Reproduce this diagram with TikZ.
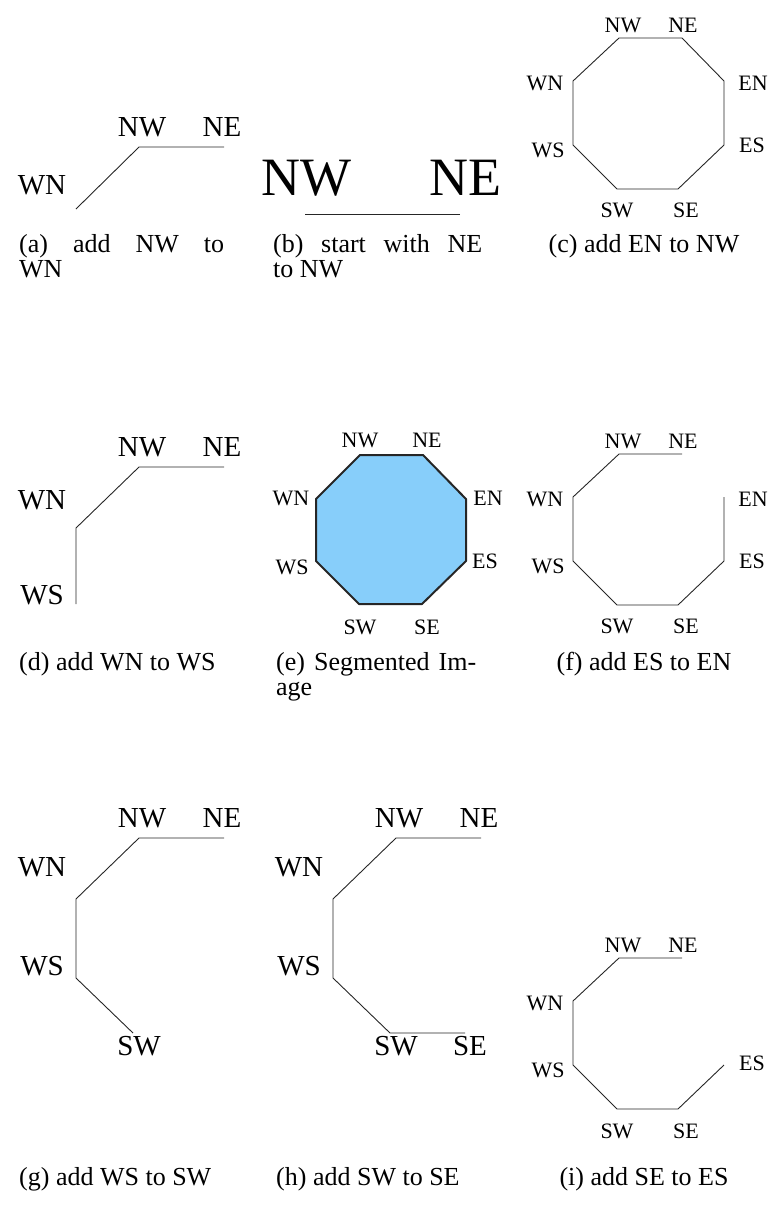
\documentclass[tikz,border=0pt]{standalone}
\usepackage{fontspec}
\setmainfont{Liberation Serif}
\tikzset{
  px/.style={x=1pt,y=-1pt},
  seg/.style={line width=0.9pt,black!85,line join=miter},
  lbl/.style={inner sep=0pt,font=\fontsize{29}{34}\selectfont},
  lblsmall/.style={inner sep=0pt,font=\fontsize{22}{26}\selectfont},
  lblbig/.style={inner sep=0pt,font=\fontsize{54}{60}\selectfont},
  subcap/.style={inner sep=0pt,anchor=base west,font=\fontsize{26}{30}\selectfont},
  subcapc/.style={inner sep=0pt,anchor=base,font=\fontsize{26}{30}\selectfont},
  region/.style={fill={rgb,255:red,135;green,206;blue,250},draw=black!85,line width=2pt,line join=round}
}
\begin{document}
\begin{tikzpicture}[px]
  \useasboundingbox (0,0) rectangle (768,1208);

  % (a) add NW to WN
  \coordinate (a-wn) at (76,209);
  \coordinate (a-nw) at (139,147);
  \coordinate (a-ne) at (224,147);
  \node[lbl] (a-lnw) at (142,127) {NW};
  \node[lbl] (a-lne) at (222,127) {NE};
  \node[lbl] (a-lwn) at (42,185) {WN};
  \draw[seg] (a-wn) -- (a-nw) -- (a-ne);
  \node[subcap] (a-cap1) at (19,252) {\hbox to 205pt{(a)\hfill add\hfill NW\hfill to}};
  \node[subcap] (a-cap2) at (19,277) {WN};

  % (b) start with NE to NW
  \coordinate (b-nw) at (305,214);
  \coordinate (b-ne) at (460,214);
  \node[lblbig] (b-lnw) at (306,178) {NW};
  \node[lblbig] (b-lne) at (465,178) {NE};
  \draw[seg] (b-ne) -- (b-nw);
  \node[subcap] (b-cap1) at (273,252) {\hbox to 209pt{(b)\hfill start\hfill with\hfill NE}};
  \node[subcap] (b-cap2) at (273,277) {to NW};

  % (c) add EN to NW
  \coordinate (c-nw) at (619,38);
  \coordinate (c-ne) at (682,38);
  \coordinate (c-en) at (724,81);
  \coordinate (c-es) at (724,145);
  \coordinate (c-se) at (678,189);
  \coordinate (c-sw) at (617,189);
  \coordinate (c-ws) at (573,145);
  \coordinate (c-wn) at (573,81);
  \node[lblsmall] (c-lnw) at (623,25) {NW};
  \node[lblsmall] (c-lne) at (683,25) {NE};
  \node[lblsmall] (c-lwn) at (545,83) {WN};
  \node[lblsmall] (c-len) at (753,83) {EN};
  \node[lblsmall] (c-lws) at (548,150) {WS};
  \node[lblsmall] (c-les) at (752,145) {ES};
  \node[lblsmall] (c-lsw) at (617,210) {SW};
  \node[lblsmall] (c-lse) at (686,210) {SE};
  \draw[seg] (c-ne) -- (c-nw) -- (c-wn) -- (c-ws) -- (c-sw) -- (c-se) -- (c-es) -- (c-en) -- (c-ne);
  \node[subcapc] (c-cap) at (644,252) {(c) add EN to NW};

  % (d) add WN to WS
  \coordinate (d-ws) at (76,604);
  \coordinate (d-wn) at (76,528);
  \coordinate (d-nw) at (139,467);
  \coordinate (d-ne) at (224,467);
  \node[lbl] (d-lnw) at (142,447) {NW};
  \node[lbl] (d-lne) at (222,447) {NE};
  \node[lbl] (d-lwn) at (42,500) {WN};
  \node[lbl] (d-lws) at (42,595) {WS};
  \draw[seg] (d-ws) -- (d-wn) -- (d-nw) -- (d-ne);
  \node[subcap] (d-cap) at (19,670) {(d) add WN to WS};

  % (e) segmented image
  \coordinate (e-nw) at (360,455);
  \coordinate (e-ne) at (423,455);
  \coordinate (e-en) at (466,499);
  \coordinate (e-es) at (466,561);
  \coordinate (e-se) at (422,604);
  \coordinate (e-sw) at (359,604);
  \coordinate (e-ws) at (316,561);
  \coordinate (e-wn) at (316,499);
  \filldraw[region] (e-nw) -- (e-ne) -- (e-en) -- (e-es) -- (e-se) -- (e-sw) -- (e-ws) -- (e-wn) -- cycle;
  \node[lblsmall] (e-lnw) at (360,440) {NW};
  \node[lblsmall] (e-lne) at (427,440) {NE};
  \node[lblsmall] (e-lwn) at (291,498) {WN};
  \node[lblsmall] (e-len) at (488,498) {EN};
  \node[lblsmall] (e-lws) at (292,567) {WS};
  \node[lblsmall] (e-les) at (485,561) {ES};
  \node[lblsmall] (e-lsw) at (360,627) {SW};
  \node[lblsmall] (e-lse) at (427,627) {SE};
  \node[subcap] (e-cap1) at (276,670) {\hbox to 200pt{(e)\hfill Segmented\hfill Im-}};
  \node[subcap] (e-cap2) at (276,695) {age};

  % (f) add ES to EN
  \coordinate (f-nw) at (619,454);
  \coordinate (f-ne) at (682,454);
  \coordinate (f-en) at (724,497);
  \coordinate (f-es) at (724,561);
  \coordinate (f-se) at (678,605);
  \coordinate (f-sw) at (617,605);
  \coordinate (f-ws) at (573,561);
  \coordinate (f-wn) at (573,497);
  \node[lblsmall] (f-lnw) at (623,441) {NW};
  \node[lblsmall] (f-lne) at (683,441) {NE};
  \node[lblsmall] (f-lwn) at (545,499) {WN};
  \node[lblsmall] (f-len) at (753,499) {EN};
  \node[lblsmall] (f-lws) at (548,566) {WS};
  \node[lblsmall] (f-les) at (752,561) {ES};
  \node[lblsmall] (f-lsw) at (617,626) {SW};
  \node[lblsmall] (f-lse) at (686,626) {SE};
  \draw[seg] (f-ne) -- (f-nw) -- (f-wn) -- (f-ws) -- (f-sw) -- (f-se) -- (f-es) -- (f-en);
  \node[subcapc] (f-cap) at (644,670) {(f) add ES to EN};

  % (g) add WS to SW
  \coordinate (g-sw) at (133,1033);
  \coordinate (g-ws) at (76,978);
  \coordinate (g-wn) at (76,899);
  \coordinate (g-nw) at (139,838);
  \coordinate (g-ne) at (224,838);
  \node[lbl] (g-lnw) at (142,818) {NW};
  \node[lbl] (g-lne) at (222,818) {NE};
  \node[lbl] (g-lwn) at (42,867) {WN};
  \node[lbl] (g-lws) at (42,966) {WS};
  \node[lbl] (g-lsw) at (139,1046) {SW};
  \draw[seg] (g-sw) -- (g-ws) -- (g-wn) -- (g-nw) -- (g-ne);
  \node[subcap] (g-cap) at (19,1185) {(g) add WS to SW};

  % (h) add SW to SE
  \coordinate (h-se) at (465,1033);
  \coordinate (h-sw) at (390,1033);
  \coordinate (h-ws) at (333,978);
  \coordinate (h-wn) at (333,899);
  \coordinate (h-nw) at (396,838);
  \coordinate (h-ne) at (481,838);
  \node[lbl] (h-lnw) at (399,818) {NW};
  \node[lbl] (h-lne) at (479,818) {NE};
  \node[lbl] (h-lwn) at (299,867) {WN};
  \node[lbl] (h-lws) at (299,966) {WS};
  \node[lbl] (h-lsw) at (396,1046) {SW};
  \node[lbl] (h-lse) at (470,1046) {SE};
  \draw[seg] (h-se) -- (h-sw) -- (h-ws) -- (h-wn) -- (h-nw) -- (h-ne);
  \node[subcap] (h-cap) at (276,1185) {(h) add SW to SE};

  % (i) add SE to ES
  \coordinate (i-nw) at (619,958);
  \coordinate (i-ne) at (682,958);
  \coordinate (i-wn) at (573,1001);
  \coordinate (i-ws) at (573,1065);
  \coordinate (i-sw) at (617,1109);
  \coordinate (i-se) at (678,1109);
  \coordinate (i-es) at (724,1065);
  \node[lblsmall] (i-lnw) at (623,945) {NW};
  \node[lblsmall] (i-lne) at (683,945) {NE};
  \node[lblsmall] (i-lwn) at (545,1003) {WN};
  \node[lblsmall] (i-lws) at (548,1070) {WS};
  \node[lblsmall] (i-les) at (752,1063) {ES};
  \node[lblsmall] (i-lsw) at (617,1131) {SW};
  \node[lblsmall] (i-lse) at (686,1131) {SE};
  \draw[seg] (i-ne) -- (i-nw) -- (i-wn) -- (i-ws) -- (i-sw) -- (i-se) -- (i-es);
  \node[subcapc] (i-cap) at (644,1185) {(i) add SE to ES};
\end{tikzpicture}
\end{document}
